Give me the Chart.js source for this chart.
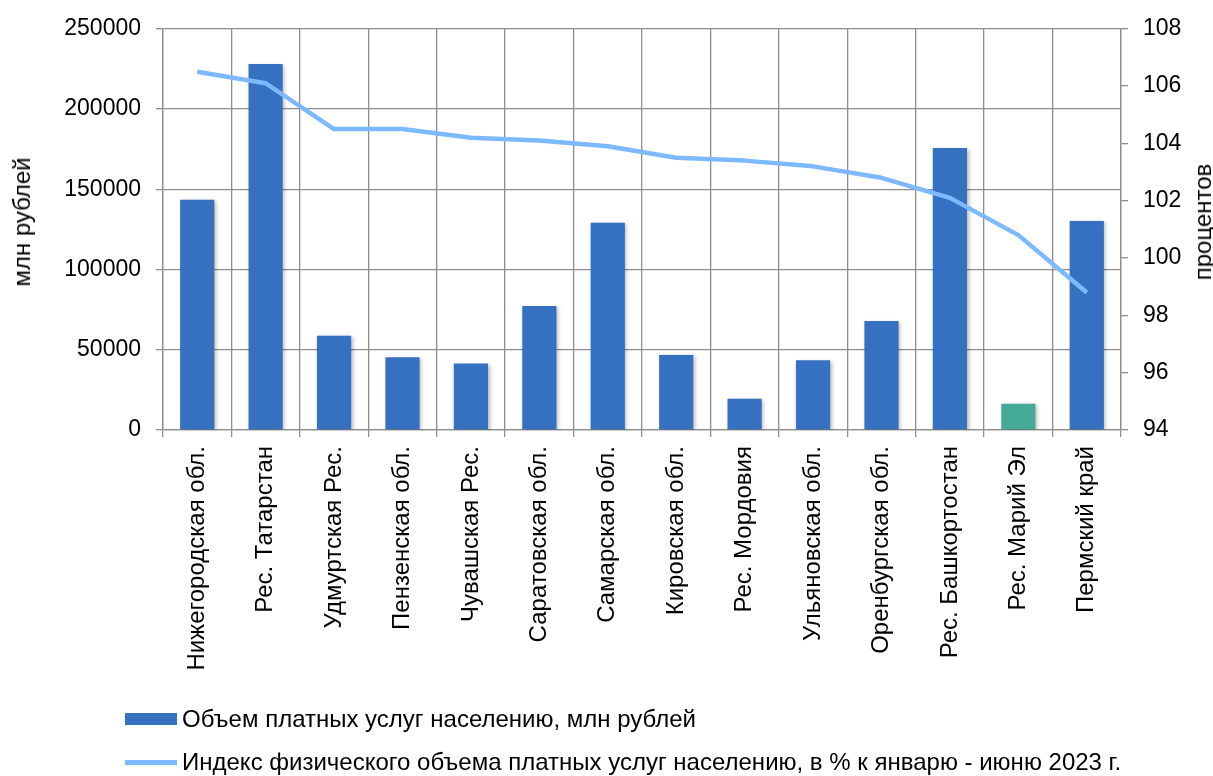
<!DOCTYPE html>
<html><head><meta charset="utf-8">
<script src="https://cdn.jsdelivr.net/npm/chart.js@4.4.1/dist/chart.umd.min.js"></script>
<style>
html,body{margin:0;padding:0;background:#fff;}
#wrap{position:relative;width:1213px;height:776px;font-family:"Liberation Sans",Arial,sans-serif;color:#000;overflow:hidden;}
canvas{position:absolute;left:0;top:0;}
.ttl{position:absolute;font-size:24px;white-space:nowrap;transform:translate(-50%,-50%) rotate(-90deg);}
.leg{position:absolute;left:125px;height:28px;font-size:24px;white-space:nowrap;display:flex;align-items:center;}
.leg .mk{display:inline-block;width:52px;margin-right:5px;}
</style></head>
<body>
<div id="wrap">
<canvas id="c" width="1213" height="776"></canvas>
<div class="ttl" id="tl" style="left:22px;top:222px;"></div>
<div class="ttl" id="tr" style="left:1203px;top:222px;"></div>
<div class="leg" id="leg1" style="top:705px;"><span class="mk" id="mk1" style="height:12px;"></span><span id="lt1"></span></div>
<div class="leg" id="leg2" style="top:748px;"><span class="mk" id="mk2" style="height:5px;"></span><span id="lt2"></span></div>
</div>
<script>
const categories = ["Нижегородская обл.","Рес. Татарстан","Удмуртская Рес.","Пензенская обл.","Чувашская Рес.","Саратовская обл.","Самарская обл.","Кировская обл.","Рес. Мордовия","Ульяновская обл.","Оренбургская обл.","Рес. Башкортостан","Рес. Марий Эл","Пермский край"];
const volumeValues = [143500, 228000, 58700, 45400, 41500, 77200, 129100, 46800, 19500, 43500, 67900, 175700, 16400, 130300];
const indexValues = [106.5, 106.1, 104.5, 104.5, 104.2, 104.1, 103.9, 103.5, 103.4, 103.2, 102.8, 102.1, 100.8, 98.8];
const highlightCategory = "Рес. Марий Эл";
const volumeLabel = "Объем платных услуг населению, млн рублей";
const indexLabel = "Индекс физического объема платных услуг населению, в % к январю - июню 2023 г.";
const leftTitle = "млн рублей";
const rightTitle = "процентов";

const barBlue = "#3670C0";
const barTeal = "#44AA97";
const lineBlue = "#7DB9FF";
const gridGrey = "#8E8E8E";
const tickFont = {family: '"Liberation Sans", Arial, sans-serif', size: 23};
const catFont = {family: '"Liberation Sans", Arial, sans-serif', size: 24};

document.getElementById('tl').textContent = leftTitle;
document.getElementById('tr').textContent = rightTitle;
document.getElementById('lt1').textContent = volumeLabel;
document.getElementById('lt2').textContent = indexLabel;
document.getElementById('mk1').style.background = barBlue;
document.getElementById('mk2').style.background = lineBlue;

const barShadow = {
  id: 'barShadow',
  beforeDatasetDraw(chart, args) {
    if (args.meta.type === 'bar') {
      const c = chart.ctx; c.save();
      c.shadowColor = 'rgba(0,0,0,0.28)'; c.shadowBlur = 4; c.shadowOffsetX = 1.5; c.shadowOffsetY = 1.5;
    }
  },
  afterDatasetDraw(chart, args) { if (args.meta.type === 'bar') chart.ctx.restore(); }
};

new Chart(document.getElementById('c'), {
  type: 'bar',
  data: {
    labels: categories,
    datasets: [
      {
        type: 'line', label: indexLabel, data: indexValues, yAxisID: 'y2',
        borderColor: lineBlue, borderWidth: 4.5, pointRadius: 0, tension: 0, order: 0,
        borderCapStyle: 'butt', borderJoinStyle: 'round'
      },
      {
        type: 'bar', label: volumeLabel, data: volumeValues, yAxisID: 'y',
        backgroundColor: categories.map(c => c === highlightCategory ? barTeal : barBlue),
        barPercentage: 0.5, categoryPercentage: 1.0, order: 1
      }
    ]
  },
  options: {
    responsive: false, animation: false, devicePixelRatio: 1,
    layout: {padding: {top: 24, left: 0, right: 0, bottom: 0}},
    plugins: {legend: {display: false}, tooltip: {enabled: false}},
    scales: {
      x: {
        afterFit: s => { s.height = 346; },
        grid: {color: gridGrey, lineWidth: 1.3, tickLength: 7, offset: true},
        border: {color: gridGrey, width: 1.3},
        ticks: {font: catFont, color: '#000', maxRotation: 90, minRotation: 90, padding: 9, autoSkip: false}
      },
      y: {
        position: 'left', min: 0, max: 250000,
        afterFit: s => { s.width = 163; },
        grid: {color: gridGrey, lineWidth: 1.3, tickLength: 7},
        border: {color: gridGrey, width: 1.3},
        ticks: {stepSize: 50000, font: tickFont, color: '#000', padding: 15, callback: v => String(v)}
      },
      y2: {
        position: 'right', min: 94, max: 108,
        afterFit: s => { s.width = 92; },
        grid: {drawOnChartArea: false, color: gridGrey, lineWidth: 1.3, tickLength: 7},
        border: {color: gridGrey, width: 1.3},
        ticks: {stepSize: 2, font: tickFont, color: '#000', padding: 15, callback: v => String(v)}
      }
    }
  },
  plugins: [barShadow]
});
</script>
</body></html>
